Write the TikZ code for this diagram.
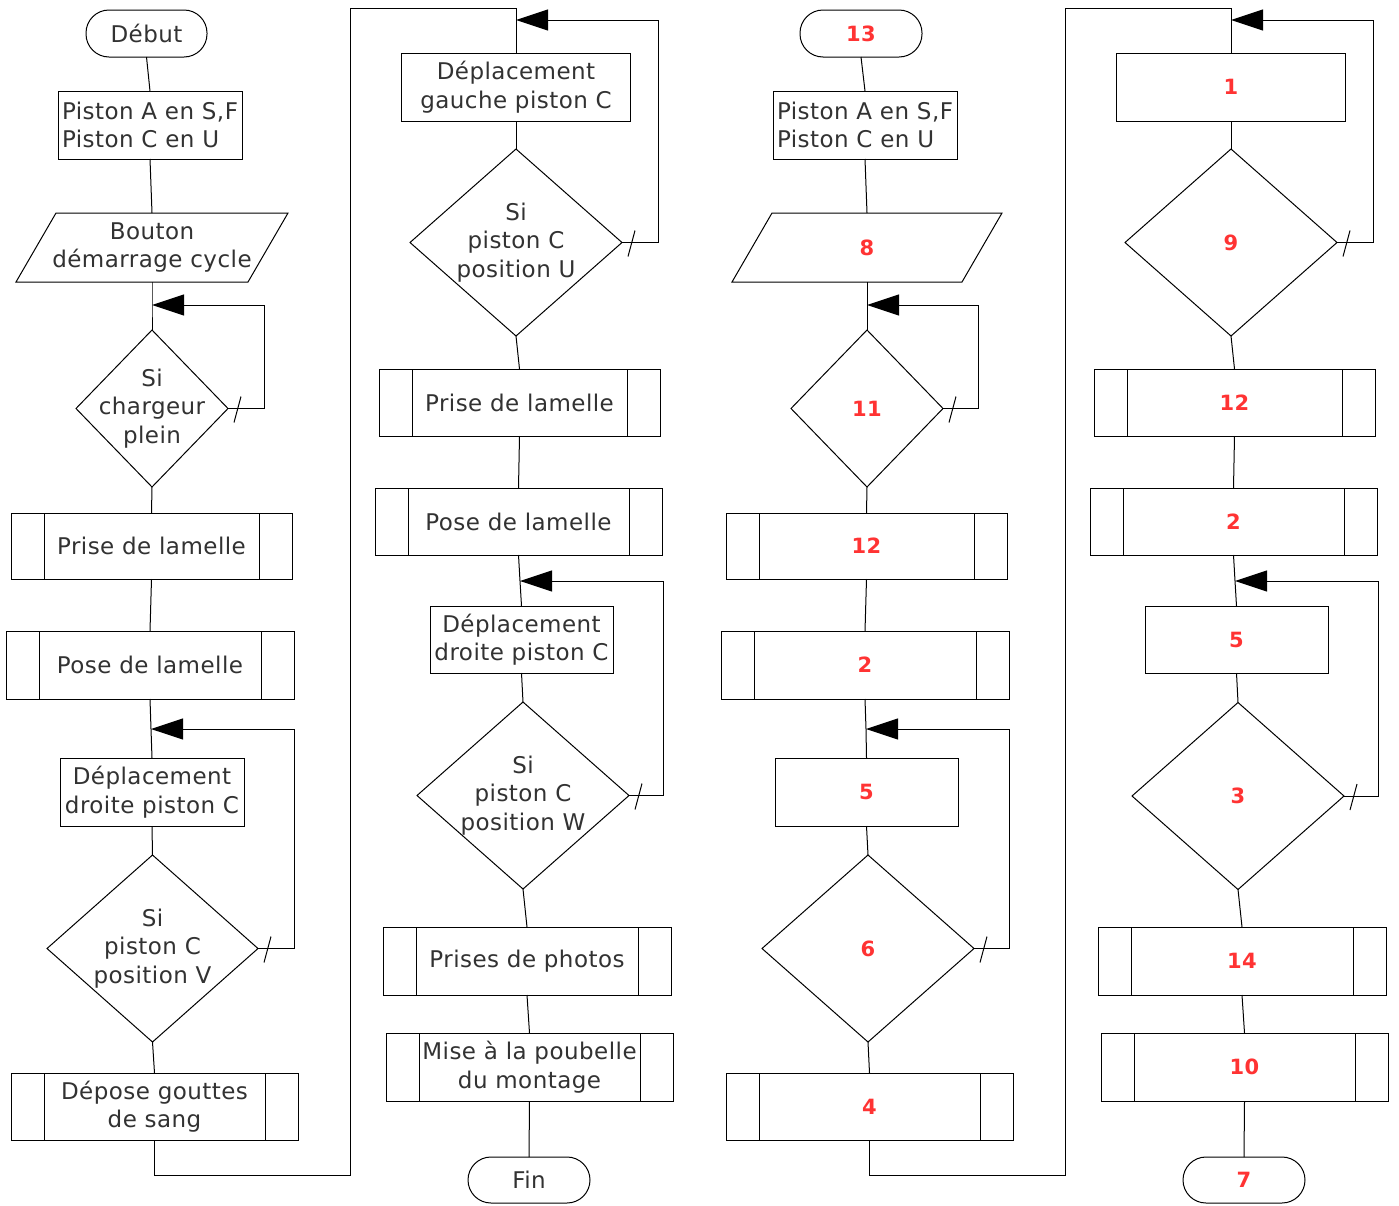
\documentclass[tikz,border=0pt]{standalone}
\usepackage{fontspec}
\setmainfont{DejaVu Sans}[LetterSpace=2]
\usetikzlibrary{shapes.geometric,arrows.meta}
\definecolor{rednum}{RGB}{255,51,51}
\definecolor{txt}{RGB}{50,50,50}
\newcommand\fs{\fontsize{23}{28.5}\selectfont}
\newcommand\rfs{\fontsize{21}{25}\selectfont\bfseries}
\begin{document}
\begin{tikzpicture}[x=1pt,y=-1pt, line width=1pt,
  base/.style={draw, inner sep=0pt, outer sep=0pt, align=center, font=\fs, text=txt},
  proc/.style={base, rectangle},
  sub/.style={proc, path picture={\draw[line width=1pt]
     ([xshift=33pt]path picture bounding box.north west) -- ([xshift=33pt]path picture bounding box.south west)
     ([xshift=-33pt]path picture bounding box.north east) -- ([xshift=-33pt]path picture bounding box.south east);}},
  term/.style={base, rounded corners=23pt},
  dec/.style={base, diamond},
  para/.style={inner sep=0pt, outer sep=0pt, align=center, font=\fs, text=txt},
  num/.style={font=\rfs, text=rednum},
  lab/.style={font=\fs, text=txt, align=center, inner sep=0pt},
  sz/.style 2 args={minimum width=#1pt, minimum height=#2pt},
  arr/.style={-{Triangle[length=32pt,width=21pt]}},
]
\useasboundingbox (0,0) rectangle (1399,1205);
\fill[white] (0,0) rectangle (1399,1205);

% ---------- column 1
\node[term, sz={121}{47}] (deb) at (146.5,33.5) {Début};
\node[proc, align=left, sz={184}{68}] (init1) at (150,125) {Piston A en S,F\\Piston C en U};
\node[para, sz={232}{69}] (bout) at (152,247.5) {Bouton\\démarrage cycle};
\draw ([xshift=20pt]bout.north west) -- ([xshift=20pt]bout.north east) -- ([xshift=-20pt]bout.south east) -- ([xshift=-20pt]bout.south west) -- cycle;
\node[dec, sz={152}{157}, label={[lab]center:Si\\chargeur\\plein}] (d1) at (152,408.5) {};
\node[sub, sz={281}{66}] (prise1) at (151.5,546) {Prise de lamelle};
\node[sub, sz={288}{68}] (pose1) at (150,665) {Pose de lamelle};
\node[proc, sz={184}{68}] (dep1) at (152,792) {Déplacement\\droite piston C};
\node[dec, sz={211}{187}, label={[lab]center:Si\\piston C\\position V}] (d2) at (152.5,948.5) {};
\node[sub, sz={287}{67}] (gout) at (154.5,1106.5) {Dépose gouttes\\de sang};

\coordinate (j1) at (152,305);
\coordinate (j2) at (151,729);
\coordinate (k1) at (350,1175);
\coordinate (k2) at (350,8);

\draw (deb.south) -- (init1.north);
\draw (init1.south) -- (bout.north);
\draw (bout.south) -- (j1) -- (d1.north);
\draw[arr] (d1.east) -- ++(36,0) |- (j1);
\draw ([shift={(6,14)}]d1.east) -- ([shift={(13,-12)}]d1.east);
\draw (d1.south) -- (prise1.north);
\draw (prise1.south) -- (pose1.north);
\draw (pose1.south) -- (j2) -- (dep1.north);
\draw (dep1.south) -- (d2.north);
\draw[arr] (d2.east) -- ++(36,0) |- (j2);
\draw ([shift={(6,14)}]d2.east) -- ([shift={(13,-12)}]d2.east);
\draw (d2.south) -- (gout.north);

% ---------- column 2
\node[proc, sz={229}{68}] (gauche) at (516,87) {Déplacement\\gauche piston C};
\node[dec, sz={212}{187}, label={[lab]center:Si\\piston C\\position U}] (d3) at (516,242.5) {};
\node[sub, sz={281}{67}] (prise2) at (519.5,402.5) {Prise de lamelle};
\node[sub, sz={287}{67}] (pose2) at (518.5,521.5) {Pose de lamelle};
\node[proc, sz={183}{67}] (dep2) at (521.5,639.5) {Déplacement\\droite piston C};
\node[dec, sz={212}{187}, label={[lab]center:Si\\piston C\\position W}] (d4) at (523,795.5) {};
\node[sub, sz={288}{68}] (photo) at (527,961) {Prises de photos};
\node[sub, sz={287}{68}] (mise) at (529.5,1067) {Mise à la poubelle\\du montage};
\node[term, sz={122}{46}] (fin) at (529,1180) {Fin};

\coordinate (j3) at (516,20);
\coordinate (j4) at (520,581);

\draw (gout.south) |- (k1) -- (k2) -| (gauche.north);
\draw (gauche.south) -- (d3.north);
\draw[arr] (d3.east) -- ++(36,0) |- (j3);
\draw ([shift={(6,14)}]d3.east) -- ([shift={(13,-12)}]d3.east);
\draw (d3.south) -- (prise2.north);
\draw (prise2.south) -- (pose2.north);
\draw (pose2.south) -- (j4) -- (dep2.north);
\draw (dep2.south) -- (d4.north);
\draw[arr] (d4.east) -- ++(34,0) |- (j4);
\draw ([shift={(6,14)}]d4.east) -- ([shift={(13,-12)}]d4.east);
\draw (d4.south) -- (photo.north);
\draw (photo.south) -- (mise.north);
\draw (mise.south) -- (fin.north);

% ---------- column 3
\node[term, num, sz={122}{47}] (t13) at (861,33.5) {13};
\node[proc, align=left, sz={184}{68}] (init2) at (865,125) {Piston A en S,F\\Piston C en U};
\node[para, num, sz={230}{69}] (p8) at (867,247.5) {8};
\draw ([xshift=20pt]p8.north west) -- ([xshift=20pt]p8.north east) -- ([xshift=-20pt]p8.south east) -- ([xshift=-20pt]p8.south west) -- cycle;
\node[dec, num, sz={152}{157}] (d11) at (867,408.5) {11};
\node[sub, num, sz={281}{66}] (s12) at (866.5,546) {12};
\node[sub, num, sz={288}{68}] (s2) at (865,665) {2};
\node[proc, num, sz={183}{68}] (b5) at (866.5,792) {5};
\node[dec, num, sz={212}{187}] (d6) at (868,948.5) {6};
\node[sub, num, sz={287}{67}] (s4) at (869.5,1106.5) {4};

\coordinate (j5) at (867,305);
\coordinate (j6) at (866,729);
\coordinate (k3) at (1065,1175);
\coordinate (k4) at (1065,8);

\draw (t13.south) -- (init2.north);
\draw (init2.south) -- (p8.north);
\draw (p8.south) -- (j5) -- (d11.north);
\draw[arr] (d11.east) -- ++(35,0) |- (j5);
\draw ([shift={(6,14)}]d11.east) -- ([shift={(13,-12)}]d11.east);
\draw (d11.south) -- (s12.north);
\draw (s12.south) -- (s2.north);
\draw (s2.south) -- (j6) -- (b5.north);
\draw (b5.south) -- (d6.north);
\draw[arr] (d6.east) -- ++(35,0) |- (j6);
\draw ([shift={(6,14)}]d6.east) -- ([shift={(13,-12)}]d6.east);
\draw (d6.south) -- (s4.north);

% ---------- column 4
\node[proc, num, sz={229}{68}] (b1) at (1231,87) {1};
\node[dec, num, sz={212}{187}] (d9) at (1231,242.5) {9};
\node[sub, num, sz={281}{67}] (s12b) at (1234.5,402.5) {12};
\node[sub, num, sz={287}{67}] (s2b) at (1233.5,521.5) {2};
\node[proc, num, sz={183}{67}] (b5b) at (1236.5,639.5) {5};
\node[dec, num, sz={212}{187}] (d3b) at (1238,796) {3};
\node[sub, num, sz={288}{68}] (s14) at (1242,961) {14};
\node[sub, num, sz={287}{68}] (s10) at (1244.5,1067) {10};
\node[term, num, sz={122}{46}] (t7) at (1244,1180) {7};

\coordinate (j7) at (1231,20);
\coordinate (j8) at (1235,581);

\draw (s4.south) |- (k3) -- (k4) -| (b1.north);
\draw (b1.south) -- (d9.north);
\draw[arr] (d9.east) -- ++(36,0) |- (j7);
\draw ([shift={(6,14)}]d9.east) -- ([shift={(13,-12)}]d9.east);
\draw (d9.south) -- (s12b.north);
\draw (s12b.south) -- (s2b.north);
\draw (s2b.south) -- (j8) -- (b5b.north);
\draw (b5b.south) -- (d3b.north);
\draw[arr] (d3b.east) -- ++(34,0) |- (j8);
\draw ([shift={(6,14)}]d3b.east) -- ([shift={(13,-12)}]d3b.east);
\draw (d3b.south) -- (s14.north);
\draw (s14.south) -- (s10.north);
\draw (s10.south) -- (t7.north);
\end{tikzpicture}
\end{document}
